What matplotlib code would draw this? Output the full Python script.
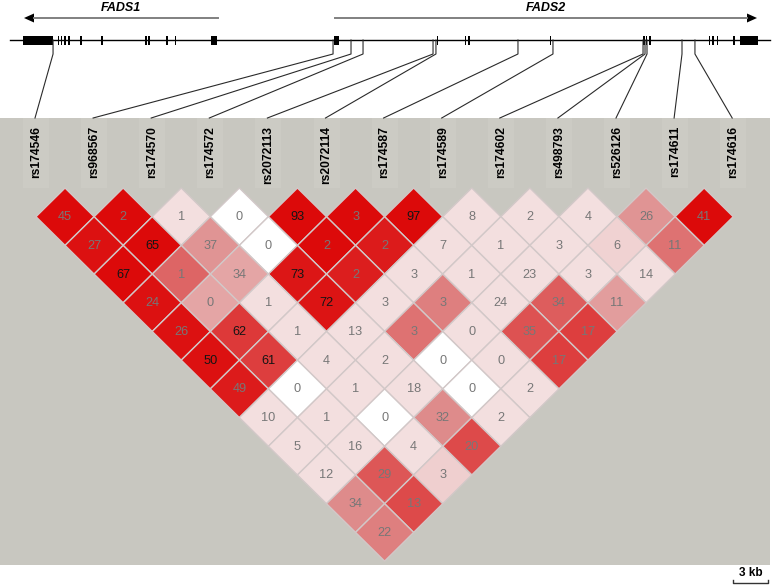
import matplotlib

matplotlib.use("Agg")
import matplotlib.pyplot as plt
from matplotlib.colors import LinearSegmentedColormap
from matplotlib.patches import Polygon, Rectangle


plt.rcParams["font.family"] = ["Liberation Sans", "DejaVu Sans"]

# SNPs in map order
SNP_NAMES = [
    "rs174546", "rs968567", "rs174570", "rs174572", "rs2072113",
    "rs2072114", "rs174587", "rs174589", "rs174602", "rs498793",
    "rs526126", "rs174611", "rs174616",
]
SNP_POSITIONS_KB = [
    3.69, 27.69, 29.23, 30.26, 36.26, 36.51, 43.54,
    46.54, 54.26, 54.43, 54.60, 57.60, 58.71,
]

# r2 x 100 per cell; row k holds pairs (i, i + k + 1)
R2_ROWS = [
    [45, 2, 1, 0, 93, 3, 97, 8, 2, 4, 26, 41],
    [27, 65, 37, 0, 2, 2, 7, 1, 3, 6, 11],
    [67, 1, 34, 73, 2, 3, 1, 23, 3, 14],
    [24, 0, 1, 72, 3, 3, 24, 34, 11],
    [26, 62, 1, 13, 3, 0, 35, 17],
    [50, 61, 4, 2, 0, 0, 17],
    [49, 0, 1, 18, 0, 2],
    [10, 1, 0, 32, 2],
    [5, 16, 4, 20],
    [12, 29, 3],
    [34, 13],
    [22],
]

# D'-based shading (0 pale .. 1 full red, -1 white)
SHADE_ROWS = [
    [1.0, 1.0, 0.0, -1, 1.0, 1.0, 1.0, 0.0, 0.0, 0.0, 0.45, 1.0],
    [0.97, 1.0, 0.45, -1, 1.0, 0.93, 0.0, 0.0, 0.0, 0.08, 0.6],
    [1.0, 0.65, 0.35, 0.95, 0.92, 0.0, 0.0, 0.0, 0.0, 0.0],
    [0.97, 0.35, 0.0, 0.96, 0.0, 0.55, 0.0, 0.68, 0.4],
    [0.97, 0.82, 0.0, 0.0, 0.6, 0.0, 0.72, 0.8],
    [0.97, 0.8, 0.0, 0.0, -1, 0.0, 0.8],
    [0.93, -1, 0.0, 0.0, -1, 0.0],
    [0.0, 0.0, -1, 0.5, 0.0],
    [0.0, 0.0, 0.0, 0.75],
    [0.0, 0.7, 0.1],
    [0.5, 0.75],
    [0.55],
]

# exon blocks (start, end) in kb along the map
EXONS_KB = [
    (1.11, 3.69), (4.10, 4.22), (4.35, 4.47), (4.67, 4.80), (5.01, 5.14),
    (6.04, 6.17), (7.84, 7.97), (11.61, 11.74), (11.87, 12.00),
    (13.33, 13.58), (14.10, 14.23), (17.23, 17.74),
    (27.77, 28.24), (36.56, 36.68), (38.96, 39.08), (39.30, 39.43),
    (46.28, 46.41), (54.30, 54.43), (54.51, 54.64), (54.77, 54.90),
    (59.91, 60.04), (60.21, 60.34), (60.56, 60.69), (61.97, 62.10),
    (62.57, 64.11),
]
MAP_LENGTH_KB = 65.14
# gene name, arrow start, arrow tip (kb)
GENES = [("FADS1", 17.83, 1.20), ("FADS2", 27.86, 64.03)]
SCALE_BAR_KB = 3

# layout in pixels
WIDTH, HEIGHT = 772, 587
MAP_X0 = 10
PX_PER_KB = 35 / 3
GENE_Y = 40
ARROW_Y = 18
PANEL_TOP, PANEL_BOTTOM = 118, 565
GRID_X0 = 36
STEP = 58.1
ROW_STEP = 28.7
FIRST_ROW_Y = 216.7

BG_GRAY = "#c8c7c0"
LD_CMAP = LinearSegmentedColormap.from_list(
    "ld", ["#f3dfdf", "#de8c8c", "#dc0a0a"]
)


def kb_to_x(kb: float) -> float:
    return MAP_X0 + kb * PX_PER_KB


def draw_gene_map(ax) -> None:
    """Gene line, exons, transcript arrows and gene names."""
    ax.plot([kb_to_x(0), kb_to_x(MAP_LENGTH_KB)], [GENE_Y, GENE_Y],
            color="black", lw=1)
    for start, end in EXONS_KB:
        x0, x1 = kb_to_x(start), kb_to_x(end)
        ax.add_patch(Rectangle((x0, GENE_Y - 4.5), max(x1 - x0, 1.2), 9,
                               color="black", lw=0))

    for name, start, tip in GENES:
        xs, xt = kb_to_x(start), kb_to_x(tip)
        direction = 1 if xt > xs else -1
        head = 10
        ax.plot([xs, xt - direction * head], [ARROW_Y, ARROW_Y],
                color="#808080", lw=1.4)
        ax.add_patch(Polygon([(xt, ARROW_Y),
                              (xt - direction * head, ARROW_Y - 4.5),
                              (xt - direction * head, ARROW_Y + 4.5)],
                             closed=True, color="black", lw=0))
        ax.text((xs + xt) / 2, 8, name, fontsize=9, fontweight="bold",
                fontstyle="italic", ha="center", va="center")


def draw_connectors(ax) -> None:
    """Lines from each SNP's map position to its column label."""
    for i, kb in enumerate(SNP_POSITIONS_KB):
        gx = kb_to_x(kb)
        lx = GRID_X0 + STEP * i - 1
        ax.plot([gx, gx, lx], [GENE_Y, GENE_Y + 14, PANEL_TOP],
                color="#2a2a2a", lw=0.8)


def draw_ld_panel(ax) -> None:
    ax.add_patch(Rectangle((0, PANEL_TOP), 770, PANEL_BOTTOM - PANEL_TOP,
                           color=BG_GRAY, lw=0, zorder=0))

    for i, name in enumerate(SNP_NAMES):
        x = GRID_X0 + STEP * i
        ax.add_patch(Rectangle((x - 13, PANEL_TOP), 26, 70,
                               color="#cccbc4", lw=0, zorder=1))
        ax.text(x, PANEL_TOP + 8, name, rotation=90, fontsize=8.7,
                fontweight="bold", ha="center", va="top", zorder=3)

    half_w = STEP / 2
    half_h = ROW_STEP
    for k, (values, shades) in enumerate(zip(R2_ROWS, SHADE_ROWS)):
        for i, (value, shade) in enumerate(zip(values, shades)):
            j = i + k + 1
            cx = GRID_X0 + STEP * (i + j) / 2
            cy = FIRST_ROW_Y + ROW_STEP * k
            face = "white" if shade < 0 else LD_CMAP(shade)
            ax.add_patch(Polygon([(cx - half_w, cy), (cx, cy - half_h),
                                  (cx + half_w, cy), (cx, cy + half_h)],
                                 closed=True, facecolor=face,
                                 edgecolor="#d2c8c8", lw=1, zorder=2))
            text_color = "#151515" if value >= 50 else "#777777"
            ax.text(cx, cy + 0.5, str(value), fontsize=9.2, color=text_color,
                    ha="center", va="center", zorder=3)


def draw_scale_bar(ax) -> None:
    x1 = 768
    x0 = x1 - SCALE_BAR_KB * PX_PER_KB
    y = 583
    ax.plot([x0, x0, x1, x1], [y - 3, y, y, y - 3], color="#333333", lw=1)
    ax.text((x0 + x1) / 2, 573, f"{SCALE_BAR_KB} kb", fontsize=8.5,
            fontweight="bold", ha="center", va="center")


def main() -> None:
    fig = plt.figure(figsize=(WIDTH / 100, HEIGHT / 100), dpi=100)
    ax = fig.add_axes([0, 0, 1, 1])
    ax.set_xlim(0, WIDTH)
    ax.set_ylim(HEIGHT, 0)
    ax.axis("off")

    draw_ld_panel(ax)
    draw_gene_map(ax)
    draw_connectors(ax)
    draw_scale_bar(ax)

    fig.savefig("out.png", dpi=100)
    plt.close(fig)


if __name__ == "__main__":
    main()
